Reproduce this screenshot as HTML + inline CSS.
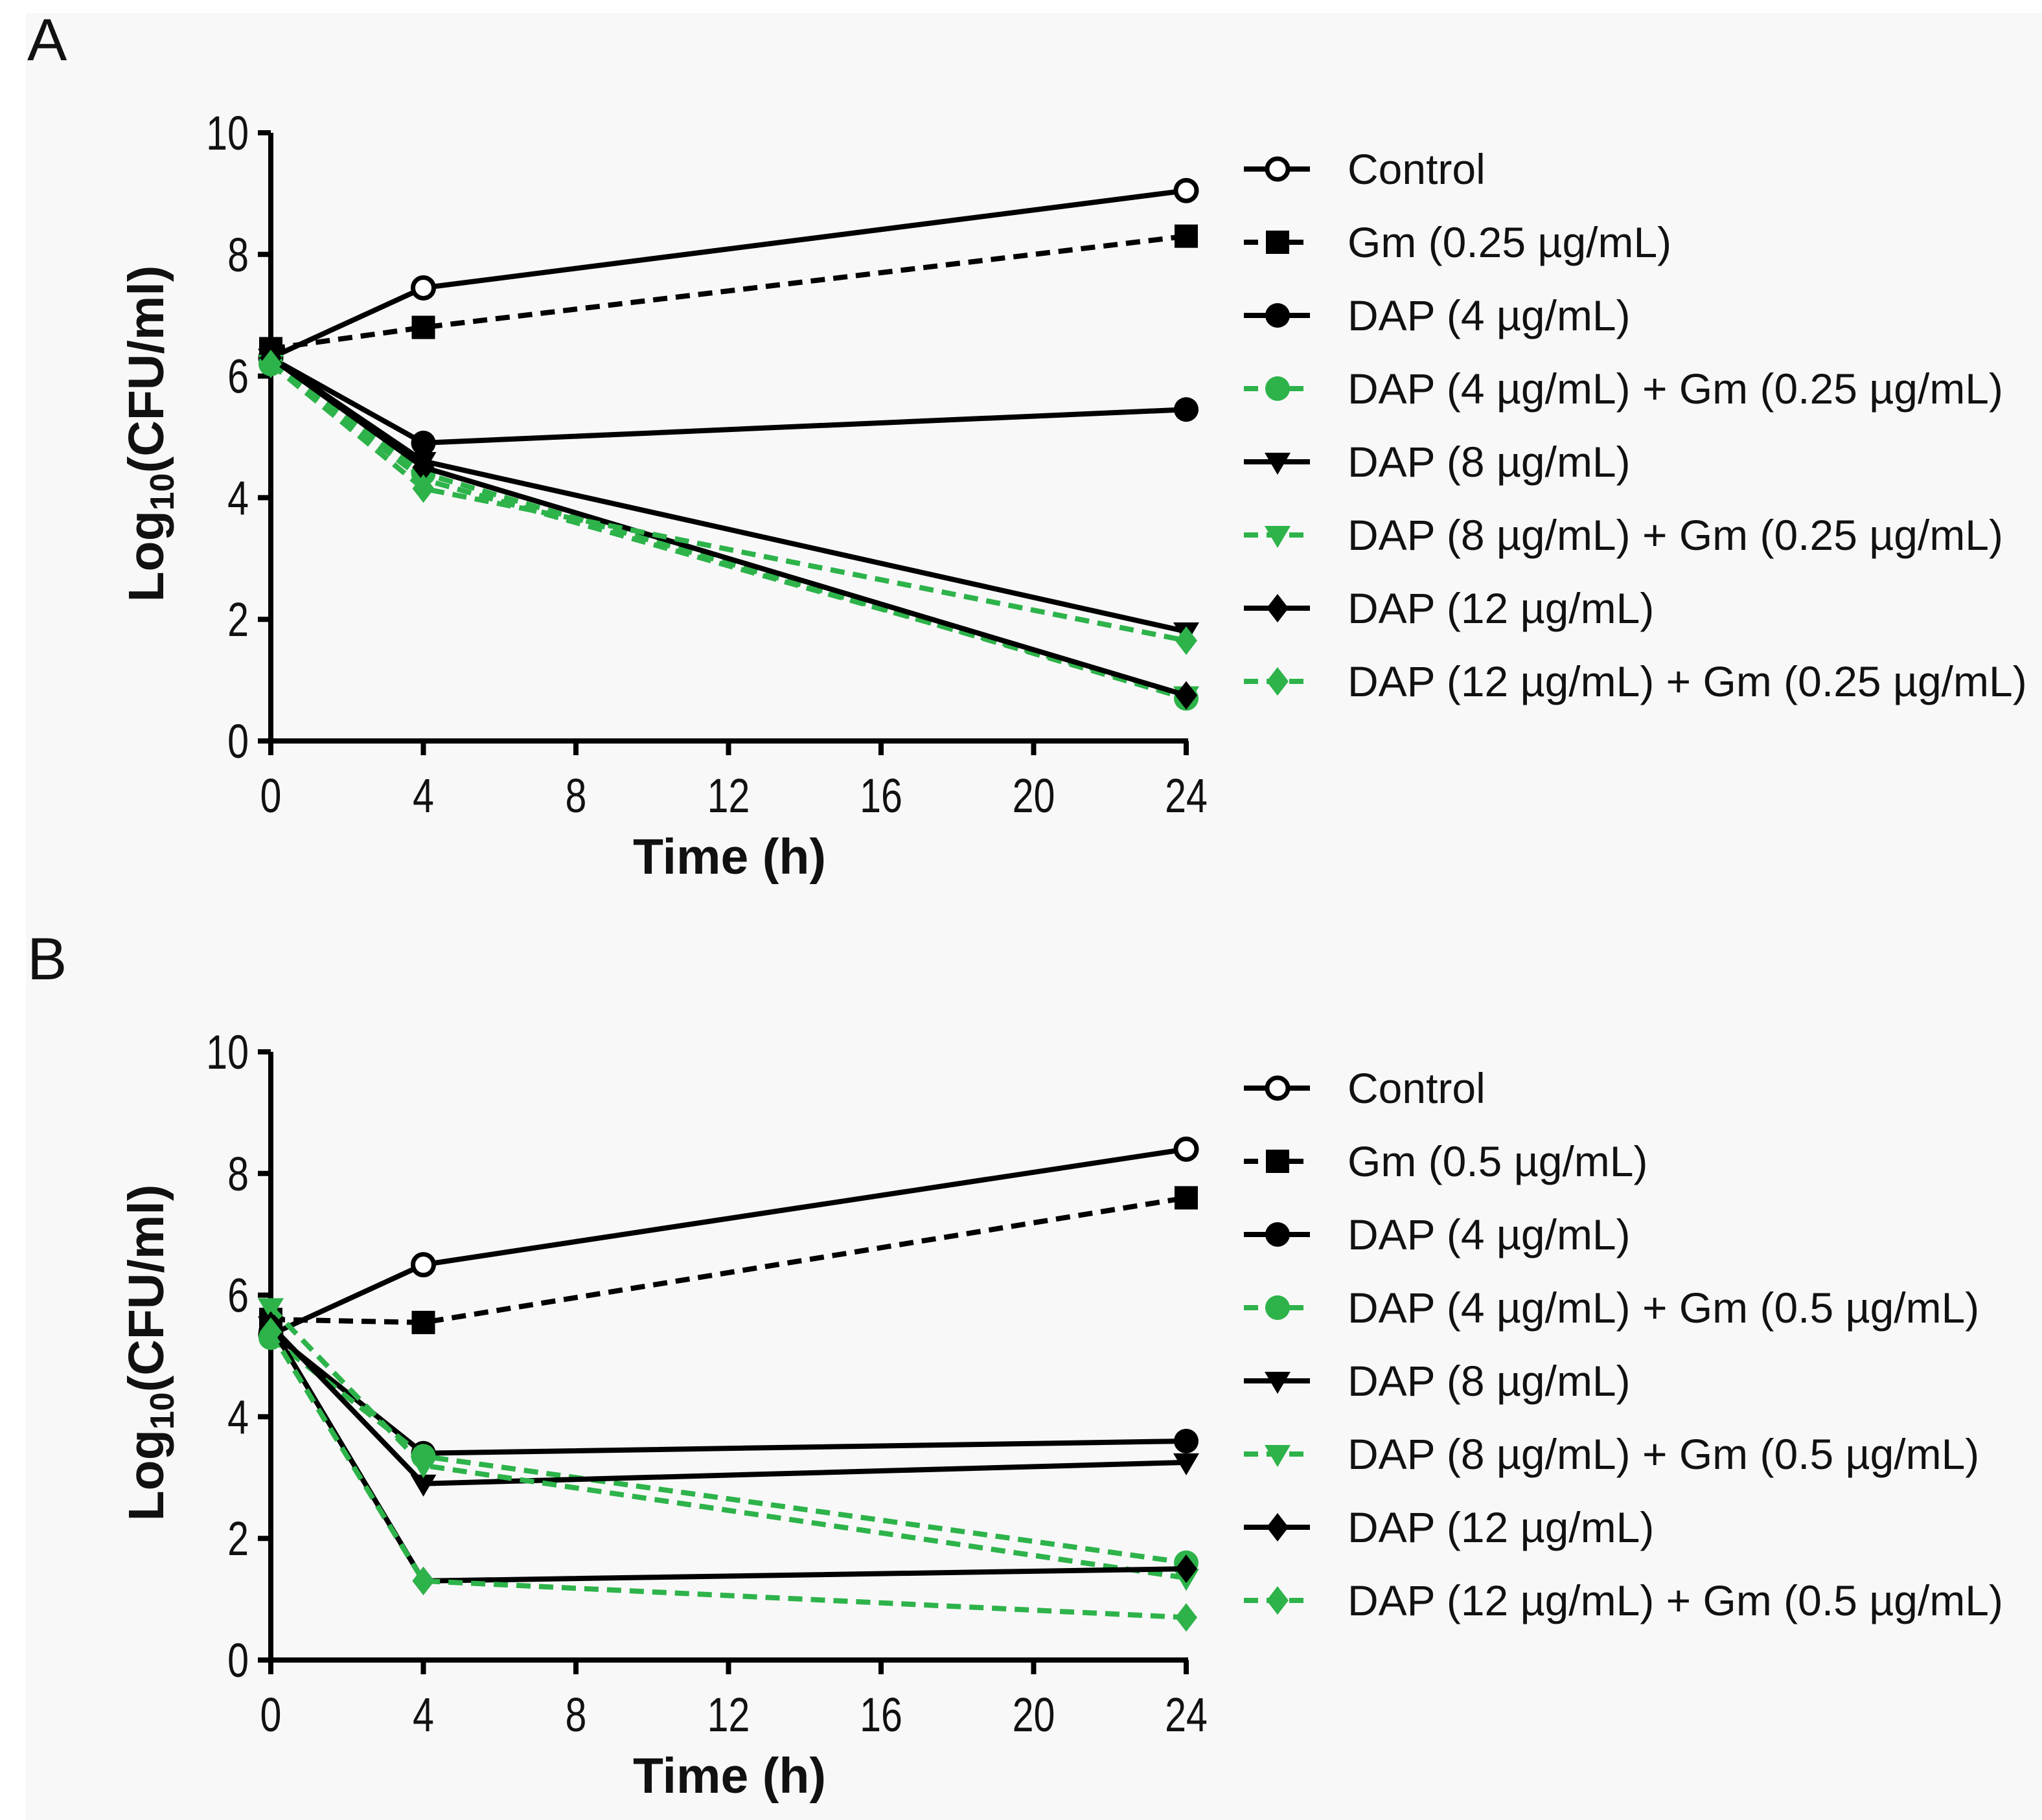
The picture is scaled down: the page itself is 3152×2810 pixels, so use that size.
<!DOCTYPE html>
<html><head><meta charset="utf-8"><style>
html,body{margin:0;padding:0;background:#fff}
svg{display:block}
text{font-family:"Liberation Sans",sans-serif;fill:#111}
</style></head><body>
<svg id="fig" width="3152" height="2810" viewBox="0 0 3152 2810" xmlns="http://www.w3.org/2000/svg">
<rect x="40" y="20" width="3112" height="2790" fill="#f8f8f8"/>
</svg>
<script>
const times = [0, 4, 24];
const xTicks = [0, 4, 8, 12, 16, 20, 24];
const yTicks = [0, 2, 4, 6, 8, 10];
const namesA = ["Control","Gm (0.25 µg/mL)","DAP (4 µg/mL)","DAP (4 µg/mL) + Gm (0.25 µg/mL)","DAP (8 µg/mL)","DAP (8 µg/mL) + Gm (0.25 µg/mL)","DAP (12 µg/mL)","DAP (12 µg/mL) + Gm (0.25 µg/mL)"];
const namesB = ["Control","Gm (0.5 µg/mL)","DAP (4 µg/mL)","DAP (4 µg/mL) + Gm (0.5 µg/mL)","DAP (8 µg/mL)","DAP (8 µg/mL) + Gm (0.5 µg/mL)","DAP (12 µg/mL)","DAP (12 µg/mL) + Gm (0.5 µg/mL)"];
const controlA = [6.3, 7.45, 9.05];
const gmA = [6.45, 6.8, 8.3];
const dap4A = [6.3, 4.9, 5.45];
const dap4gmA = [6.2, 4.4, 0.7];
const dap8A = [6.3, 4.6, 1.8];
const dap8gmA = [6.2, 4.3, 0.75];
const dap12A = [6.3, 4.5, 0.75];
const dap12gmA = [6.2, 4.15, 1.65];
const controlB = [5.35, 6.5, 8.4];
const gmB = [5.6, 5.55, 7.6];
const dap4B = [5.4, 3.4, 3.6];
const dap4gmB = [5.3, 3.35, 1.6];
const dap8B = [5.5, 2.9, 3.25];
const dap8gmB = [5.8, 3.2, 1.35];
const dap12B = [5.5, 1.3, 1.5];
const dap12gmB = [5.4, 1.3, 0.7];

const NS = "http://www.w3.org/2000/svg";
const svg = document.getElementById("fig");
const GREEN = "#2db34a";
const styles = [
  {m:"ocircle", c:"#000", dash:false},
  {m:"square", c:"#000", dash:true},
  {m:"circle", c:"#000", dash:false},
  {m:"circle", c:GREEN, dash:true},
  {m:"tri", c:"#000", dash:false},
  {m:"tri", c:GREEN, dash:true},
  {m:"diamond", c:"#000", dash:false},
  {m:"diamond", c:GREEN, dash:true}
];
function mk(tag, attrs, parent){
  const e = document.createElementNS(NS, tag);
  for (const k in attrs) e.setAttribute(k, attrs[k]);
  (parent || svg).appendChild(e);
  return e;
}
function marker(g, type, cx, cy, color){
  let e;
  if (type === "ocircle") e = mk("circle",{cx:cx,cy:cy,r:16,fill:"#fff",stroke:color,"stroke-width":7},g);
  else if (type === "circle") e = mk("circle",{cx:cx,cy:cy,r:19,fill:color},g);
  else if (type === "square") e = mk("rect",{x:cx-18,y:cy-18,width:36,height:36,fill:color},g);
  else if (type === "tri") e = mk("polygon",{points:`${cx-20},${cy-14} ${cx+20},${cy-14} ${cx},${cy+20}`,fill:color},g);
  else e = mk("polygon",{points:`${cx},${cy-22} ${cx+17},${cy} ${cx},${cy+22} ${cx-17},${cy}`,fill:color},g);
  
  
  return e;
}
function panel(label, top, names, series, legendTop){
  const x0 = 418, x1 = 1831, yTop = top, yBot = top + 939;
  const xs = v => x0 + (v/24)*(x1-x0);
  const ys = v => yBot - (v/10)*(yBot-yTop);
  const g = mk("g",{});
  
  
  const pl = mk("text",{x:42,y:top-112,"font-size":92},g);
  pl.textContent = label;
  
  
  const ax = mk("path",{d:`M${x0},${yTop} L${x0},${yBot} L${x1+3},${yBot}`,fill:"none",stroke:"#000","stroke-width":8},g);
  
  
  yTicks.forEach(v=>{
    const t = mk("line",{x1:x0-20,x2:x0,y1:ys(v),y2:ys(v),stroke:"#000","stroke-width":8},g);
    
    
    const xr = x0-34;
    const tl = mk("text",{x:xr,y:ys(v)+26,"font-size":74,"text-anchor":"end",transform:`translate(${xr},0) scale(0.8,1) translate(${-xr},0)`},g);
    tl.textContent = v;
    
    
  });
  xTicks.forEach(v=>{
    const t = mk("line",{x1:xs(v),x2:xs(v),y1:yBot,y2:yBot+22,stroke:"#000","stroke-width":8},g);
    
    
    const tl = mk("text",{x:xs(v),y:yBot+110,"font-size":74,"text-anchor":"middle",transform:`translate(${xs(v)},0) scale(0.8,1) translate(${-xs(v)},0)`},g);
    tl.textContent = v;
    
    
  });
  const xt = mk("text",{x:1126,y:yBot+205,"font-size":77,"font-weight":"bold","text-anchor":"middle"},g);
  xt.textContent = "Time (h)";
  
  
  const yt = mk("text",{x:0,y:0,"font-size":77,"font-weight":"bold","text-anchor":"middle",transform:`translate(252,${(yTop+yBot)/2 - 5}) rotate(-90)`},g);
  yt.innerHTML = 'Log<tspan font-size="52" dy="16">10</tspan><tspan dy="-16">(CFU/ml)</tspan>';
  
  
  series.forEach((vals,i)=>{
    const s = styles[i];
    const sg = mk("g",{},g);
    
    
    const pts = vals.map((v,j)=>`${xs(times[j])},${ys(v)}`).join(" ");
    const pl2 = mk("polyline",{points:pts,fill:"none",stroke:s.c,"stroke-width":8,"stroke-dasharray":s.dash?"22 13":"none"},sg);
    
    
    vals.forEach((v,j)=>marker(sg,s.m,xs(times[j]),ys(v),s.c));
  });
  names.forEach((n,i)=>{
    const s = styles[i];
    const cy = legendTop + i*113;
    const lg = mk("g",{},g);
    
    
    const ln = mk("line",{x1:1920,x2:2022,y1:cy,y2:cy,stroke:s.c,"stroke-width":8,"stroke-dasharray":s.dash?"22 13":"none"},lg);
    
    
    marker(lg,s.m,1972,cy,s.c);
    const t = mk("text",{x:2080,y:cy+23,"font-size":66},lg);
    t.textContent = n;
    
    
  });
}
panel("A", 205, namesA, [controlA,gmA,dap4A,dap4gmA,dap8A,dap8gmA,dap12A,dap12gmA], 261);
panel("B", 1624, namesB, [controlB,gmB,dap4B,dap4gmB,dap8B,dap8gmB,dap12B,dap12gmB], 1680);
</script>
</body></html>
